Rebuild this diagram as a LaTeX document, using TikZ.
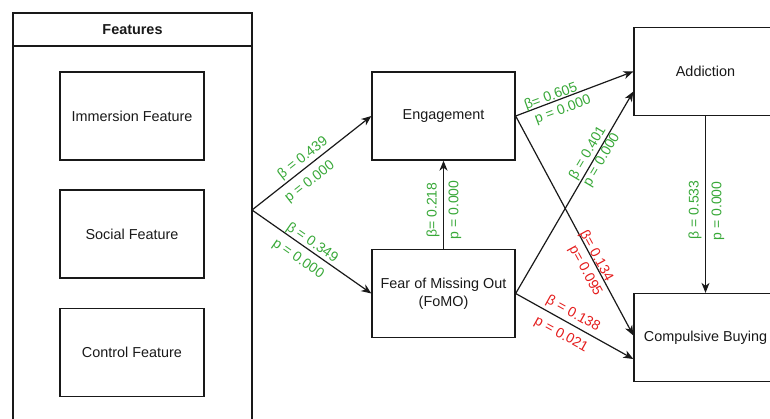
\documentclass[tikz,border=0pt]{standalone}
\usepackage{fontspec}
\setmainfont{Liberation Sans}
\usetikzlibrary{arrows.meta,calc}
\definecolor{pathgreen}{RGB}{56,168,56}
\definecolor{pathred}{RGB}{228,28,28}
\definecolor{ink}{RGB}{25,25,25}

\begin{document}
\begin{tikzpicture}[x=1pt,y=-1pt,
  box/.style={draw=ink, line width=1.3pt, minimum width=143pt, minimum height=88pt,
    inner sep=2pt, font=\fontsize{14.4}{18}\selectfont, text=ink, align=center},
  link/.style={draw=ink, line width=1.2pt, -{Stealth[length=10pt,width=8pt,inset=3pt]}},
  coef/.style={font=\fontsize{14}{16}\selectfont, inner sep=0pt, anchor=center},
  sig/.style={coef, text=pathgreen},
  weak/.style={coef, text=pathred}]

\useasboundingbox (0,0) rectangle (770,418);
\clip (0,0) rectangle (770,418);

% feature group container with its title bar
\draw[ink, line width=1.3pt] (13,13) rectangle (252,440);
\draw[ink, line width=1.3pt] (13,46) -- (252,46);
\node[font=\bfseries\fontsize{14.4}{16}\selectfont, text=ink] (feattitle) at (132.5,30) {Features};

\node[box, minimum width=144pt] (imm) at (132,116) {Immersion Feature};
\node[box, minimum width=144pt] (soc) at (132,234) {Social Feature};
\node[box, minimum width=144pt] (ctl) at (132,352.5) {Control Feature};
\coordinate (featout) at (252,210);

% constructs
\node[box] (eng)  at (443.5,116)  {Engagement};
\node[box] (fomo) at (443.5,293.5) {Fear of Missing Out\\(FoMO)};
\node[box] (add)  at (705.5,71.5)  {Addiction};
\node[box] (cb)   at (705.5,337.5) {Compulsive Buying};

% paths
\draw[link] (featout) -- (eng.west);
\draw[link] (featout) -- (fomo.west);
\draw[link] (fomo.north) -- (eng.south);
\draw[link] (eng.east) -- (add.west);
\draw[link] (eng.east) -- ([yshift=2pt]cb.west);
\draw[link] (fomo.east) -- ([yshift=-20pt]add.west);
\draw[link] (fomo.east) -- ([yshift=-21.5pt]cb.west);
\draw[link] (add.south) -- (cb.north);

% path coefficients
\node[sig, rotate=38] (b1) at (303,158) {β = 0.439};
\node[sig, rotate=38] (p1) at (310,182) {p = 0.000};
\node[sig, rotate=-34.7] (b2) at (312,243) {β = 0.349};
\node[sig, rotate=-34.7] (p2) at (298,259) {p = 0.000};
\node[sig, rotate=90] (b3) at (433,210) {β= 0.218};
\node[sig, rotate=90] (p3) at (455,210) {p = 0.000};
\node[sig, rotate=20.3] (b4) at (551,97) {β= 0.605};
\node[sig, rotate=20.3] (p4) at (563,110) {p = 0.000};
\node[sig, rotate=59.4] (b5) at (588,153) {β = 0.401};
\node[sig, rotate=59.4] (p5) at (602,160) {p = 0.000};
\node[weak, rotate=-61.5] (b6) at (596,256) {β= 0.134};
\node[weak, rotate=-61.5] (p6) at (585,271) {p= 0.095};
\node[weak, rotate=-29] (b7) at (573,314) {β = 0.138};
\node[weak, rotate=-29] (p7) at (561,335) {p = 0.021};
\node[sig, rotate=90] (b8) at (695,210) {β = 0.533};
\node[sig, rotate=90] (p8) at (718,211) {p = 0.000};
\end{tikzpicture}
\end{document}
